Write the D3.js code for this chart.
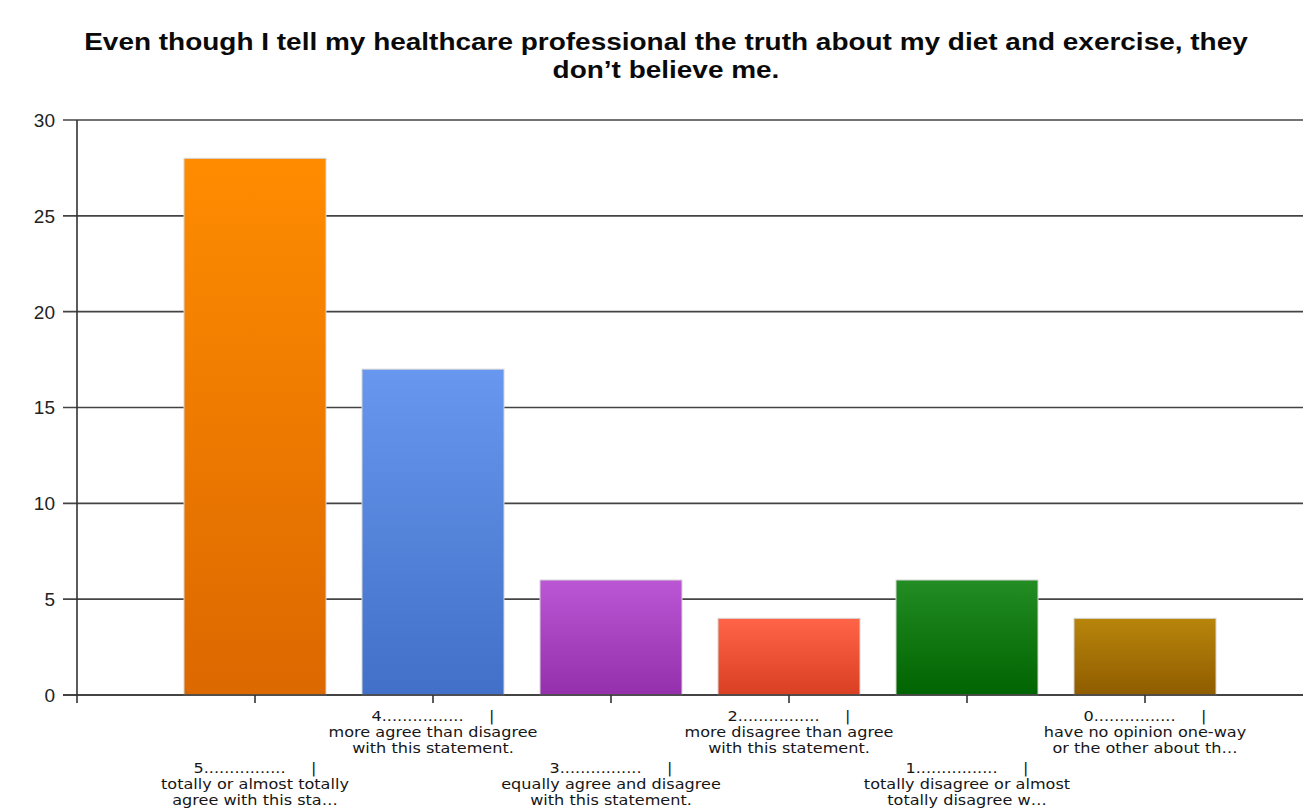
<!DOCTYPE html>
<html><head><meta charset="utf-8">
<script src="https://cdn.jsdelivr.net/npm/d3@7"></script>
<style>body{margin:0;background:#fff;overflow:hidden} svg{display:block}</style>
</head><body>
<script>
const titleLines = ["Even though I tell my healthcare professional the truth about my diet and exercise, they", "don\u2019t believe me."];
const categories = ["5", "4", "3", "2", "1", "0"];
const labelLines = [
  ["5................     |", "totally or almost totally", "agree with this sta\u2026"],
  ["4................     |", "more agree than disagree", "with this statement."],
  ["3................     |", "equally agree and disagree", "with this statement."],
  ["2................     |", "more disagree than agree", "with this statement."],
  ["1................     |", "totally disagree or almost", "totally disagree w\u2026"],
  ["0................     |", "have no opinion one-way", "or the other about th\u2026"]
];
const values = [28, 17, 6, 4, 6, 4];
const yTicks = [0, 5, 10, 15, 20, 25, 30];
const topColors = ["#ff8c00", "#6797ee", "#bb56d4", "#ff6448", "#238c23", "#b8860b"];
const bottomColors = ["#dc6800", "#4270c8", "#9530ac", "#d93f22", "#006400", "#8f5c00"];

const W = 1303, H = 810;
const svg = d3.select("body").append("svg").attr("width", W).attr("height", H);

const x = d3.scaleLinear().domain([0, 7]).range([77, 77 + 7 * 178]);
const y = d3.scaleLinear().domain([0, 30]).range([695, 120]);
const barW = 142;

// gradients
const defs = svg.append("defs");
categories.forEach((c, i) => {
  const g = defs.append("linearGradient").attr("id", "g" + i)
    .attr("x1", 0).attr("y1", 0).attr("x2", 0).attr("y2", 1);
  g.append("stop").attr("offset", "0%").attr("stop-color", topColors[i]);
  g.append("stop").attr("offset", "100%").attr("stop-color", bottomColors[i]);
});

// title
const title = svg.append("g");
titleLines.forEach((t, i) => {
  title.append("text").attr("x", 666).attr("y", 50 + i * 28)
    .attr("text-anchor", "middle")
    .style("font-family", "'Liberation Sans', Arial, sans-serif")
    .style("font-weight", "bold").style("font-size", "23px").style("fill", "#0a0a0a")
    .text(t);
});
const tnode = title.select("text").node();
const tw = tnode.getComputedTextLength();
const tScale = 1164 / tw;
title.selectAll("text").attr("transform", "translate(666,0) scale(" + tScale + ",1) translate(-666,0)");

// y gridlines + ticks
const grid = svg.append("g");
grid.selectAll("line").data(yTicks).join("line")
  .attr("x1", 63).attr("x2", W).attr("y1", d => y(d)).attr("y2", d => y(d))
  .attr("stroke", "#444").attr("stroke-width", 1.6);

svg.append("g").selectAll("text").data(yTicks).join("text")
  .attr("x", 55).attr("y", d => y(d)).attr("dy", "0.36em")
  .attr("text-anchor", "end")
  .style("font-family", "'Liberation Sans', Arial, sans-serif").style("font-size", "19px")
  .style("fill", "#222")
  .text(d => d);

// bars
svg.append("g").selectAll("rect").data(values).join("rect")
  .attr("x", (d, i) => x(i + 1) - barW / 2)
  .attr("y", d => y(d))
  .attr("width", barW)
  .attr("height", d => y(0) - y(d))
  .attr("fill", (d, i) => "url(#g" + i + ")")
  .attr("stroke", "#d6d6d6").attr("stroke-width", 1);

// axes lines
svg.append("line").attr("x1", 77).attr("x2", 77).attr("y1", y(30)).attr("y2", 703)
  .attr("stroke", "#333").attr("stroke-width", 1.6);
svg.append("line").attr("x1", 63).attr("x2", W).attr("y1", y(0)).attr("y2", y(0))
  .attr("stroke", "#333").attr("stroke-width", 1.6);
svg.append("g").selectAll("line").data(categories).join("line")
  .attr("x1", (d, i) => x(i + 1)).attr("x2", (d, i) => x(i + 1))
  .attr("y1", y(0)).attr("y2", 703)
  .attr("stroke", "#333").attr("stroke-width", 1.6);

// x labels
const lab = svg.append("g");
const lg = lab.selectAll("g").data(labelLines).join("g");
lg.each(function (lines, i) {
  const g = d3.select(this);
  const base = (i % 2 === 1) ? 721 : 773;
  lines.forEach((t, k) => {
    g.append("text").attr("x", 0).attr("y", base + k * 16)
      .attr("text-anchor", "middle")
      .style("white-space", "pre")
      .style("font-family", "'DejaVu Sans', Verdana, sans-serif").style("font-size", "13.6px")
      .style("fill", "#161616")
      .text(t);
  });
});
const refNode = lg.filter((d, i) => i === 1).selectAll("text").nodes()[1];
const lScale = 209 / refNode.getComputedTextLength();
lg.attr("transform", (d, i) => "translate(" + x(i + 1) + ",0) scale(" + lScale + ",1)");
</script>
</body></html>
